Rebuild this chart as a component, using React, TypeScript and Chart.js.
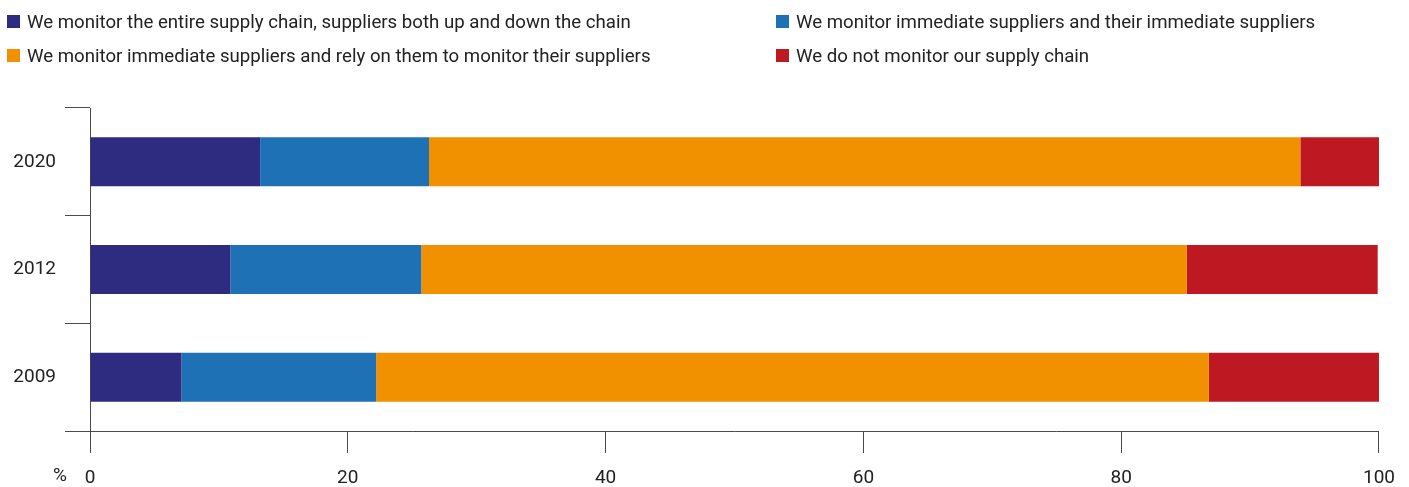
import React, { useEffect, useRef } from "react";
import { Chart, registerables } from "chart.js";

Chart.register(...registerables);

const years = ["2020", "2012", "2009"];
const seriesLabels = [
  "We monitor the entire supply chain, suppliers both up and down the chain",
  "We monitor immediate suppliers and their immediate suppliers",
  "We monitor immediate suppliers and rely on them to monitor their suppliers",
  "We do not monitor our supply chain",
];
const entireChain = [13.2, 10.9, 7.1];
const immediateAndTheirs = [13.1, 14.8, 15.1];
const relyOnImmediate = [67.6, 59.4, 64.6];
const noMonitoring = [6.1, 14.8, 13.2];
const colors = ["#2e2c80", "#1f71b6", "#f29100", "#be1823"];
const xTicks = [0, 20, 40, 60, 80, 100];

const FONT = "Roboto, 'Noto Sans', sans-serif";
const TEXT = "#222";
const AXIS = "#4a4a4a";

const percentPlugin = {
  id: "percentLabel",
  afterDraw(chart: any) {
    const { ctx } = chart;
    ctx.save();
    ctx.font = `19px ${FONT}`;
    ctx.fillStyle = TEXT;
    ctx.textAlign = "center";
    ctx.textBaseline = "middle";
    ctx.fillText("%", 60, 476);
    ctx.restore();
  },
};

export default function App() {
  const ref = useRef<HTMLCanvasElement | null>(null);

  useEffect(() => {
    if (!ref.current) return;
    const values = [entireChain, immediateAndTheirs, relyOnImmediate, noMonitoring];
    const chart = new Chart(ref.current, {
      type: "bar",
      data: {
        labels: years,
        datasets: values.map((v, i) => ({
          label: seriesLabels[i],
          data: v,
          backgroundColor: colors[i],
          borderWidth: 0,
          categoryPercentage: 1,
          barPercentage: 0.455,
        })),
      },
      options: {
        indexAxis: "y",
        animation: false,
        responsive: false,
        maintainAspectRatio: false,
        layout: { padding: { left: 0, right: 29, top: 108, bottom: 0 } },
        plugins: {
          legend: { display: false },
          tooltip: { enabled: false },
        },
        scales: {
          x: {
            stacked: true,
            min: 0,
            max: 100,
            afterFit: (s: any) => {
              s.height = 56;
            },
            afterBuildTicks: (s: any) => {
              s.ticks = xTicks.map((v) => ({ value: v }));
            },
            ticks: {
              font: { family: FONT, size: 19 },
              color: TEXT,
              padding: 14,
              maxRotation: 0,
            },
            grid: {
              drawOnChartArea: false,
              drawTicks: true,
              tickLength: 22,
              color: AXIS,
              lineWidth: 1,
            },
            border: { display: true, color: AXIS, width: 1 },
          },
          y: {
            stacked: true,
            afterFit: (s: any) => {
              s.width = 90;
            },
            ticks: {
              font: { family: FONT, size: 19 },
              color: TEXT,
              padding: 9,
            },
            grid: {
              offset: true,
              drawOnChartArea: false,
              drawTicks: true,
              tickLength: 25,
              color: AXIS,
              lineWidth: 1,
            },
            border: { display: true, color: AXIS, width: 1 },
          },
        },
      },
      plugins: [percentPlugin],
    } as any);
    return () => chart.destroy();
  }, []);

  const legendItem = (i: number, left: number, top: number) => (
    <div
      key={i}
      style={{
        position: "absolute",
        left,
        top,
        height: 13,
        display: "flex",
        alignItems: "center",
        whiteSpace: "nowrap",
      }}
    >
      <span
        style={{
          display: "inline-block",
          width: 13,
          height: 13,
          background: colors[i],
          marginRight: 7,
        }}
      />
      <span style={{ fontFamily: FONT, fontSize: 18.65, color: TEXT }}>{seriesLabels[i]}</span>
    </div>
  );

  return (
    <div
      style={{
        position: "absolute",
        left: 0,
        top: 0,
        width: 1409,
        height: 487,
        background: "#fff",
        overflow: "hidden",
      }}
    >
      <canvas
        ref={ref}
        width={1409}
        height={487}
        style={{ position: "absolute", left: 0, top: 0, width: 1409, height: 487 }}
      />
      {legendItem(0, 7, 15)}
      {legendItem(1, 776, 15)}
      {legendItem(2, 7, 49)}
      {legendItem(3, 776, 49)}
    </div>
  );
}
